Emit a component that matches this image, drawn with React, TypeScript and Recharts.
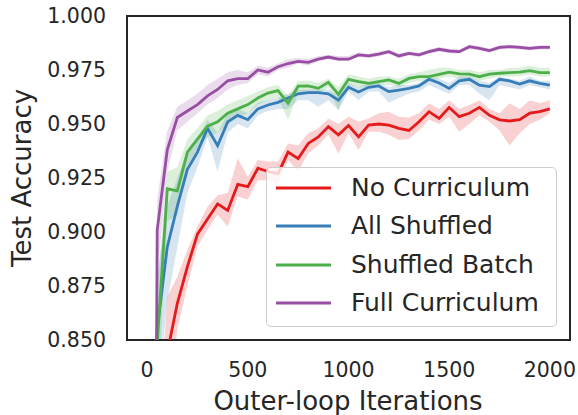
import React from "react";
import {
  ComposedChart,
  Line,
  Area,
  XAxis,
  YAxis,
  ReferenceArea,
  Legend,
} from "recharts";

// outer-loop iteration at which each evaluation was made
const iterations = [
  0, 50, 100, 150, 200, 250, 300, 350, 400, 450, 500, 550, 600, 650, 700, 750, 800, 850, 900, 950,
  1000, 1050, 1100, 1150, 1200, 1250, 1300, 1350, 1400, 1450, 1500, 1550, 1600, 1650, 1700, 1750,
  1800, 1850, 1900, 1950, 2000,
];

const noCurriculum = [
  0.1, 0.76, 0.844, 0.867, 0.884, 0.899, 0.906, 0.913, 0.91, 0.922, 0.921, 0.9295, 0.928, 0.927,
  0.937, 0.934, 0.941, 0.944, 0.9488, 0.945, 0.9493, 0.944, 0.9495, 0.95, 0.9495, 0.948, 0.947,
  0.951, 0.9557, 0.9526, 0.9577, 0.9534, 0.955, 0.9577, 0.954, 0.9519, 0.9514, 0.952, 0.955,
  0.9557, 0.957,
];
const noCurriculumLo = [
  0.09, 0.7, 0.815, 0.855, 0.875, 0.8932, 0.901, 0.908, 0.9025, 0.9164, 0.915, 0.924, 0.924, 0.922,
  0.9333, 0.928, 0.9364, 0.94, 0.945, 0.9364, 0.9457, 0.938, 0.9464, 0.9464, 0.945, 0.9426, 0.943,
  0.947, 0.952, 0.95, 0.9534, 0.9464, 0.95, 0.954, 0.951, 0.947, 0.94, 0.9457, 0.95, 0.952, 0.955,
];
const noCurriculumHi = [
  0.11, 0.8, 0.87, 0.8793, 0.8917, 0.9025, 0.9117, 0.917, 0.918, 0.934, 0.9256, 0.9333, 0.9326,
  0.9326, 0.941, 0.94, 0.9457, 0.948, 0.9526, 0.95, 0.9534, 0.951, 0.9526, 0.955, 0.9557, 0.9534,
  0.953, 0.955, 0.9596, 0.957, 0.961, 0.957, 0.9588, 0.961, 0.957, 0.955, 0.9596, 0.957, 0.961,
  0.9596, 0.961,
];

const allShuffled = [
  0.1, 0.855, 0.893, 0.912, 0.929, 0.937, 0.948, 0.94, 0.951, 0.954, 0.952, 0.957, 0.9588, 0.96,
  0.962, 0.964, 0.9645, 0.9645, 0.964, 0.961, 0.967, 0.9648, 0.967, 0.9676, 0.965, 0.9657, 0.9665,
  0.9676, 0.9707, 0.969, 0.9665, 0.97, 0.9707, 0.968, 0.9673, 0.9707, 0.97, 0.9685, 0.97, 0.9688,
  0.968,
];
const allShuffledLo = [
  0.09, 0.82, 0.868, 0.893, 0.918, 0.93, 0.944, 0.928, 0.946, 0.95, 0.948, 0.954, 0.956, 0.957,
  0.957, 0.961, 0.961, 0.958, 0.961, 0.9565, 0.965, 0.961, 0.965, 0.965, 0.96, 0.962, 0.964, 0.965,
  0.968, 0.966, 0.964, 0.968, 0.968, 0.964, 0.961, 0.968, 0.967, 0.966, 0.968, 0.967, 0.966,
];
const allShuffledHi = [
  0.11, 0.88, 0.912, 0.925, 0.937, 0.943, 0.952, 0.946, 0.955, 0.957, 0.955, 0.96, 0.961, 0.962,
  0.964, 0.966, 0.966, 0.966, 0.966, 0.963, 0.969, 0.967, 0.969, 0.969, 0.967, 0.968, 0.968, 0.969,
  0.972, 0.971, 0.969, 0.972, 0.972, 0.97, 0.969, 0.972, 0.971, 0.97, 0.972, 0.97, 0.97,
];

const shuffledBatch = [
  0.1, 0.848, 0.92, 0.919, 0.937, 0.943, 0.949, 0.951, 0.955, 0.957, 0.959, 0.962, 0.9643, 0.9655,
  0.9596, 0.9675, 0.9676, 0.9665, 0.9693, 0.9637, 0.9707, 0.9696, 0.9688, 0.9696, 0.9704, 0.9688,
  0.9711, 0.9719, 0.9719, 0.973, 0.974, 0.9732, 0.9731, 0.9719, 0.9731, 0.9735, 0.9738, 0.974,
  0.9747, 0.9738, 0.9738,
];
const shuffledBatchLo = [
  0.09, 0.82, 0.905, 0.908, 0.931, 0.938, 0.944, 0.946, 0.95, 0.953, 0.955, 0.959, 0.961, 0.962,
  0.952, 0.964, 0.965, 0.964, 0.967, 0.9565, 0.968, 0.967, 0.967, 0.968, 0.968, 0.967, 0.969, 0.97,
  0.97, 0.971, 0.972, 0.971, 0.971, 0.97, 0.971, 0.972, 0.972, 0.972, 0.973, 0.972, 0.972,
];
const shuffledBatchHi = [
  0.11, 0.875, 0.928, 0.93, 0.943, 0.948, 0.954, 0.956, 0.959, 0.961, 0.963, 0.965, 0.967, 0.968,
  0.963, 0.97, 0.97, 0.969, 0.971, 0.967, 0.973, 0.972, 0.971, 0.972, 0.972, 0.971, 0.973, 0.974,
  0.975, 0.976, 0.976, 0.975, 0.975, 0.974, 0.975, 0.975, 0.976, 0.976, 0.977, 0.976, 0.976,
];

const fullCurriculum = [
  0.1, 0.901, 0.938, 0.953, 0.956, 0.959, 0.963, 0.966, 0.97, 0.971, 0.971, 0.975, 0.974, 0.9765,
  0.978, 0.979, 0.9785, 0.98, 0.981, 0.98, 0.98, 0.982, 0.9815, 0.9824, 0.9835, 0.9815, 0.9827,
  0.982, 0.9835, 0.9846, 0.9838, 0.9835, 0.9858, 0.985, 0.984, 0.9855, 0.9858, 0.9855, 0.985,
  0.9855, 0.9855,
];
const fullCurriculumLo = [
  0.09, 0.88, 0.928, 0.947, 0.951, 0.955, 0.959, 0.962, 0.966, 0.968, 0.969, 0.973, 0.972, 0.975,
  0.976, 0.978, 0.977, 0.979, 0.98, 0.979, 0.979, 0.981, 0.9805, 0.9812, 0.9825, 0.9805, 0.9817,
  0.981, 0.9825, 0.9836, 0.9828, 0.9825, 0.9846, 0.984, 0.983, 0.9845, 0.9848, 0.9845, 0.984,
  0.9845, 0.9845,
];
const fullCurriculumHi = [
  0.11, 0.915, 0.947, 0.958, 0.961, 0.964, 0.968, 0.971, 0.974, 0.975, 0.974, 0.977, 0.976, 0.978,
  0.98, 0.9805, 0.98, 0.9815, 0.982, 0.9815, 0.9815, 0.9832, 0.9825, 0.9836, 0.9845, 0.9827,
  0.9837, 0.983, 0.9845, 0.9856, 0.9848, 0.9845, 0.9868, 0.986, 0.985, 0.9865, 0.9868, 0.9865,
  0.986, 0.9865, 0.9865,
];

const xTicks = [0, 500, 1000, 1500, 2000];
const yTicks = [0.85, 0.875, 0.9, 0.925, 0.95, 0.975, 1.0];

const series = [
  { key: "none", name: "No Curriculum", color: "#e41a1c" },
  { key: "all", name: "All Shuffled", color: "#377eb8" },
  { key: "batch", name: "Shuffled Batch", color: "#4daf4a" },
  { key: "full", name: "Full Curriculum", color: "#984ea3" },
];

const rows = iterations.map((it, i) => ({
  iter: it,
  none: noCurriculum[i],
  noneBand: [noCurriculumLo[i], noCurriculumHi[i]],
  all: allShuffled[i],
  allBand: [allShuffledLo[i], allShuffledHi[i]],
  batch: shuffledBatch[i],
  batchBand: [shuffledBatchLo[i], shuffledBatchHi[i]],
  full: fullCurriculum[i],
  fullBand: [fullCurriculumLo[i], fullCurriculumHi[i]],
}));

const FONT = "DejaVu Sans";
const INK = "#262626";

function LegendBox() {
  return (
    <div
      style={{
        position: "relative",
        width: 291,
        height: 160,
        boxSizing: "border-box",
        border: "1px solid #cccccc",
        borderRadius: 5,
        background: "rgba(255,255,255,0.8)",
        fontFamily: FONT,
        fontSize: 25,
        color: INK,
      }}
    >
      {series.map((s, i) => (
        <div
          key={s.key}
          style={{
            position: "absolute",
            left: 0,
            top: 20 + i * 38.3 - 15,
            height: 30,
            display: "flex",
            alignItems: "center",
          }}
        >
          <svg width={84} height={30} style={{ display: "block" }}>
            <line x1={9} x2={64} y1={15} y2={15} stroke={s.color} strokeWidth={3} />
          </svg>
          <span style={{ lineHeight: "30px", whiteSpace: "nowrap" }}>{s.name}</span>
        </div>
      ))}
    </div>
  );
}

export default function App() {
  return (
    <div style={{ position: "absolute", left: 0, top: 0, background: "#fff" }}>
      <ComposedChart
        width={578}
        height={415}
        data={rows}
        margin={{ top: 16, right: 8, bottom: 0, left: 0 }}
      >
        <XAxis
          dataKey="iter"
          type="number"
          domain={[-100, 2100]}
          ticks={xTicks}
          allowDataOverflow
          axisLine={false}
          tickLine={false}
          tickSize={6}
          tickMargin={16}
          height={75}
          tick={{ fill: INK, fontSize: 20.5, fontFamily: FONT }}
          label={(p: any) => (
            <text x={348} y={410} textAnchor="middle" fill={INK} fontSize={26} fontFamily={FONT}>
              Outer-loop Iterations
            </text>
          )}
        />
        <YAxis
          type="number"
          domain={[0.85, 1.0]}
          ticks={yTicks}
          allowDataOverflow
          axisLine={false}
          tickLine={false}
          tickSize={6}
          tickMargin={15}
          width={127}
          tickFormatter={(v: number) => v.toFixed(3)}
          tick={{ fill: INK, fontSize: 20.5, fontFamily: FONT }}
          label={(p: any) => (
            <text
              x={31}
              y={178}
              transform="rotate(-90 31 178)"
              textAnchor="middle"
              fill={INK}
              fontSize={26}
              fontFamily={FONT}
            >
              Test Accuracy
            </text>
          )}
        />
        {series.map((s) => (
          <Area
            key={s.key + "Band"}
            dataKey={s.key + "Band"}
            type="linear"
            stroke="none"
            fill={s.color}
            fillOpacity={0.2}
            isAnimationActive={false}
            activeDot={false}
          />
        ))}
        {series.map((s) => (
          <Line
            key={s.key}
            dataKey={s.key}
            name={s.name}
            type="linear"
            stroke={s.color}
            strokeWidth={2.8}
            dot={false}
            activeDot={false}
            isAnimationActive={false}
          />
        ))}
        <ReferenceArea
          x1={-100}
          x2={2100}
          y1={0.85}
          y2={1.0}
          fill="none"
          stroke={INK}
          strokeWidth={2}
          ifOverflow="visible"
        />
        <Legend
          layout="vertical"
          align="center"
          verticalAlign="middle"
          content={() => <LegendBox />}
          wrapperStyle={{ left: 266, top: 167, width: 291, height: 160 }}
        />
      </ComposedChart>
    </div>
  );
}
